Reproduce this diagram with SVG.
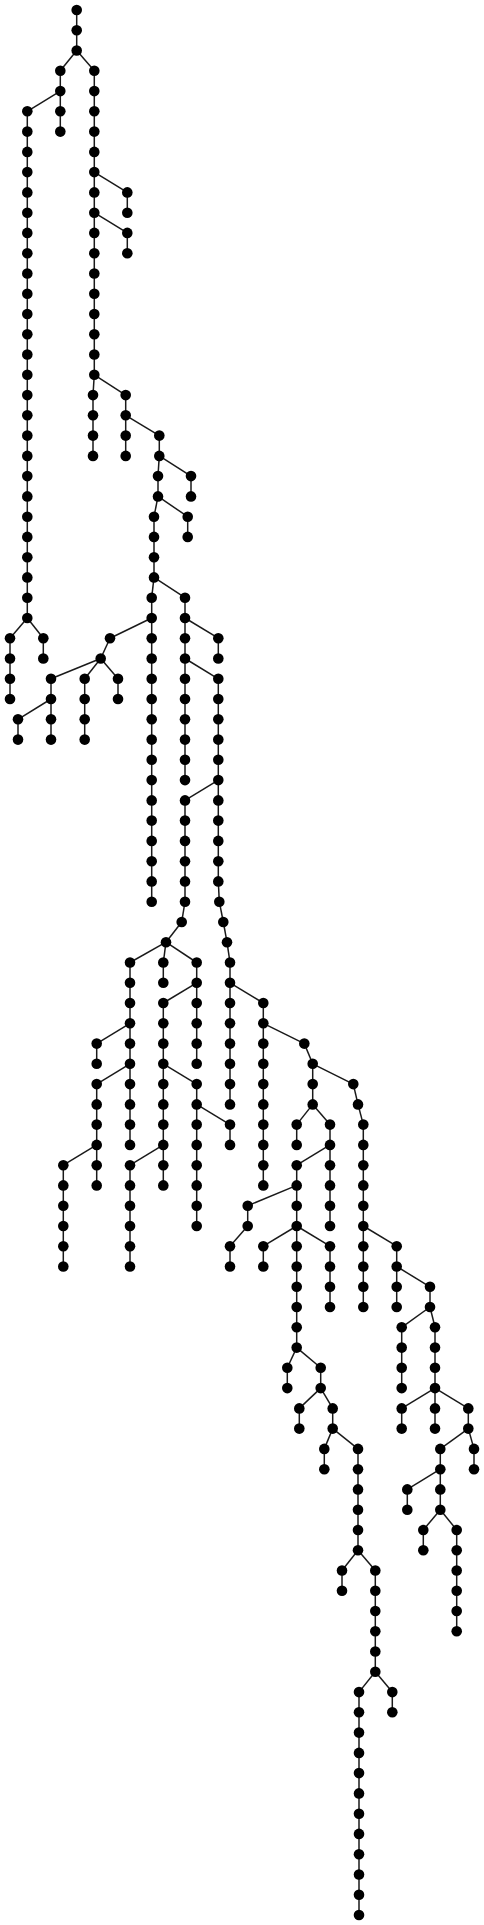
<svg xmlns="http://www.w3.org/2000/svg" width="484" height="1925" viewBox="0 0 484 1925">
<style>
#edges line{stroke:#1a1a1a;stroke-width:1.5;fill:none}
.n circle{fill:#000}
</style>
<rect width="484" height="1925" fill="#fff"/>
<g id="edges">
<line x1="76.7" y1="10" x2="76.7" y2="50.5"/>
<line x1="60.3" y1="70.8" x2="60.3" y2="131.6"/>
<line x1="27.3" y1="111.3" x2="27.3" y2="618"/>
<line x1="10" y1="638.2" x2="10" y2="699"/>
<line x1="43.3" y1="638.2" x2="43.3" y2="658.5"/>
<line x1="94.3" y1="70.8" x2="94.3" y2="374.8"/>
<line x1="127.3" y1="192.4" x2="127.3" y2="212.7"/>
<line x1="127.3" y1="232.9" x2="127.3" y2="253.2"/>
<line x1="93" y1="395.1" x2="93" y2="455.9"/>
<line x1="125.7" y1="395.1" x2="125.7" y2="455.9"/>
<line x1="159.3" y1="435.6" x2="159.3" y2="455.9"/>
<line x1="158" y1="476.1" x2="158" y2="496.4"/>
<line x1="191" y1="476.1" x2="191" y2="496.4"/>
<line x1="154" y1="516.7" x2="154" y2="577.4"/>
<line x1="187.7" y1="516.7" x2="187.7" y2="536.9"/>
<line x1="151.7" y1="597.7" x2="151.7" y2="901.7"/>
<line x1="185" y1="597.7" x2="185" y2="780.1"/>
<line x1="185" y1="800.4" x2="185" y2="901.7"/>
<line x1="218.3" y1="638.2" x2="218.3" y2="658.5"/>
<line x1="218.3" y1="678.8" x2="218.3" y2="881.4"/>
<line x1="18" y1="719.3" x2="18" y2="739.6"/>
<line x1="51" y1="678.8" x2="51" y2="739.6"/>
<line x1="84.7" y1="678.8" x2="84.7" y2="739.6"/>
<line x1="118" y1="678.8" x2="118" y2="699"/>
<line x1="130" y1="962.5" x2="130" y2="1144.9"/>
<line x1="130" y1="1165.2" x2="130" y2="1266.5"/>
<line x1="163.3" y1="962.5" x2="163.3" y2="982.8"/>
<line x1="163.3" y1="1003" x2="163.3" y2="1185.4"/>
<line x1="196.7" y1="962.5" x2="196.7" y2="1063.8"/>
<line x1="196.7" y1="1084.1" x2="196.7" y2="1226"/>
<line x1="96.7" y1="1043.6" x2="96.7" y2="1063.8"/>
<line x1="96.7" y1="1084.1" x2="96.7" y2="1185.4"/>
<line x1="63.3" y1="1165.2" x2="63.3" y2="1266.5"/>
<line x1="230" y1="962.5" x2="230" y2="1104.4"/>
<line x1="230" y1="1124.6" x2="230" y2="1144.9"/>
<line x1="230" y1="1246.2" x2="230" y2="1266.5"/>
<line x1="263.3" y1="1003" x2="263.3" y2="1185.4"/>
<line x1="263.3" y1="1246.2" x2="263.3" y2="1266.5"/>
<line x1="312.7" y1="1063.8" x2="312.7" y2="1104.4"/>
<line x1="363.3" y1="1124.6" x2="363.3" y2="1307"/>
<line x1="396.7" y1="1246.2" x2="396.7" y2="1307"/>
<line x1="430" y1="1286.8" x2="430" y2="1307"/>
<line x1="296.7" y1="1124.6" x2="296.7" y2="1144.9"/>
<line x1="296.7" y1="1165.2" x2="296.7" y2="1347.6"/>
<line x1="330" y1="1124.6" x2="330" y2="1226"/>
<line x1="330" y1="1246.2" x2="330" y2="1307"/>
<line x1="247.7" y1="1205.7" x2="247.7" y2="1226"/>
<line x1="287.3" y1="1367.8" x2="287.3" y2="1388.1"/>
<line x1="320.7" y1="1367.8" x2="320.7" y2="1388.1"/>
<line x1="299.3" y1="1408.4" x2="299.3" y2="1428.6"/>
<line x1="332.7" y1="1408.4" x2="332.7" y2="1428.6"/>
<line x1="324.3" y1="1448.9" x2="324.3" y2="1469.2"/>
<line x1="358" y1="1448.9" x2="358" y2="1550.2"/>
<line x1="342" y1="1570.5" x2="342" y2="1590.7"/>
<line x1="375.3" y1="1570.5" x2="375.3" y2="1671.8"/>
<line x1="359" y1="1692.1" x2="359" y2="1915"/>
<line x1="392.3" y1="1692.1" x2="392.3" y2="1712.3"/>
<line x1="401.7" y1="1327.3" x2="401.7" y2="1388.1"/>
<line x1="401.7" y1="1408.4" x2="401.7" y2="1428.6"/>
<line x1="435" y1="1327.3" x2="435" y2="1428.6"/>
<line x1="468.3" y1="1408.4" x2="468.3" y2="1428.6"/>
<line x1="440.3" y1="1448.9" x2="440.3" y2="1509.7"/>
<line x1="474" y1="1448.9" x2="474" y2="1469.2"/>
<line x1="407.3" y1="1489.4" x2="407.3" y2="1509.7"/>
<line x1="423.3" y1="1530" x2="423.3" y2="1550.2"/>
<line x1="456.7" y1="1530" x2="456.7" y2="1631.3"/>
<line x1="76.7" y1="50.5" x2="60.3" y2="70.8"/>
<line x1="76.7" y1="50.5" x2="94.3" y2="70.8"/>
<line x1="60.3" y1="91.1" x2="27.3" y2="111.3"/>
<line x1="27.3" y1="618" x2="10" y2="638.2"/>
<line x1="27.3" y1="618" x2="43.3" y2="638.2"/>
<line x1="94.3" y1="172.1" x2="127.3" y2="192.4"/>
<line x1="94.3" y1="212.7" x2="127.3" y2="232.9"/>
<line x1="94.3" y1="374.8" x2="93" y2="395.1"/>
<line x1="94.3" y1="374.8" x2="125.7" y2="395.1"/>
<line x1="125.7" y1="415.3" x2="159.3" y2="435.6"/>
<line x1="159.3" y1="455.9" x2="158" y2="476.1"/>
<line x1="159.3" y1="455.9" x2="191" y2="476.1"/>
<line x1="158" y1="496.4" x2="154" y2="516.7"/>
<line x1="158" y1="496.4" x2="187.7" y2="516.7"/>
<line x1="154" y1="577.4" x2="151.7" y2="597.7"/>
<line x1="154" y1="577.4" x2="185" y2="597.7"/>
<line x1="151.7" y1="618" x2="110" y2="638.2"/>
<line x1="110" y1="638.2" x2="100.7" y2="658.5"/>
<line x1="100.7" y1="658.5" x2="51" y2="678.8"/>
<line x1="100.7" y1="658.5" x2="84.7" y2="678.8"/>
<line x1="100.7" y1="658.5" x2="118" y2="678.8"/>
<line x1="51" y1="699" x2="18" y2="719.3"/>
<line x1="185" y1="618" x2="218.3" y2="638.2"/>
<line x1="185" y1="658.5" x2="218.3" y2="678.8"/>
<line x1="218.3" y1="780.1" x2="185" y2="800.4"/>
<line x1="218.3" y1="881.4" x2="219.3" y2="901.7"/>
<line x1="219.3" y1="901.7" x2="223.3" y2="922"/>
<line x1="223.3" y1="922" x2="227" y2="942.2"/>
<line x1="227" y1="942.2" x2="230" y2="962.5"/>
<line x1="185" y1="901.7" x2="181.7" y2="922"/>
<line x1="181.7" y1="922" x2="166" y2="942.2"/>
<line x1="166" y1="942.2" x2="130" y2="962.5"/>
<line x1="166" y1="942.2" x2="163.3" y2="962.5"/>
<line x1="166" y1="942.2" x2="196.7" y2="962.5"/>
<line x1="130" y1="1023.3" x2="96.7" y2="1043.6"/>
<line x1="130" y1="1063.8" x2="96.7" y2="1084.1"/>
<line x1="96.7" y1="1144.9" x2="63.3" y2="1165.2"/>
<line x1="196.7" y1="982.8" x2="163.3" y2="1003"/>
<line x1="163.3" y1="1063.8" x2="196.7" y2="1084.1"/>
<line x1="196.7" y1="1104.4" x2="230" y2="1124.6"/>
<line x1="163.3" y1="1144.9" x2="130" y2="1165.2"/>
<line x1="230" y1="982.8" x2="263.3" y2="1003"/>
<line x1="263.3" y1="1023.3" x2="304.3" y2="1043.6"/>
<line x1="304.3" y1="1043.6" x2="312.7" y2="1063.8"/>
<line x1="312.7" y1="1063.8" x2="353.3" y2="1084.1"/>
<line x1="353.3" y1="1084.1" x2="358" y2="1104.4"/>
<line x1="358" y1="1104.4" x2="363.3" y2="1124.6"/>
<line x1="312.7" y1="1104.4" x2="296.7" y2="1124.6"/>
<line x1="312.7" y1="1104.4" x2="330" y2="1124.6"/>
<line x1="330" y1="1144.9" x2="296.7" y2="1165.2"/>
<line x1="296.7" y1="1185.4" x2="247.7" y2="1205.7"/>
<line x1="247.7" y1="1226" x2="230" y2="1246.2"/>
<line x1="296.7" y1="1226" x2="263.3" y2="1246.2"/>
<line x1="296.7" y1="1226" x2="330" y2="1246.2"/>
<line x1="363.3" y1="1226" x2="396.7" y2="1246.2"/>
<line x1="396.7" y1="1266.5" x2="430" y2="1286.8"/>
<line x1="296.7" y1="1347.6" x2="287.3" y2="1367.8"/>
<line x1="296.7" y1="1347.6" x2="320.7" y2="1367.8"/>
<line x1="320.7" y1="1388.1" x2="299.3" y2="1408.4"/>
<line x1="320.7" y1="1388.1" x2="332.7" y2="1408.4"/>
<line x1="332.7" y1="1428.6" x2="324.3" y2="1448.9"/>
<line x1="332.7" y1="1428.6" x2="358" y2="1448.9"/>
<line x1="358" y1="1550.2" x2="342" y2="1570.5"/>
<line x1="358" y1="1550.2" x2="375.3" y2="1570.5"/>
<line x1="375.3" y1="1671.8" x2="359" y2="1692.1"/>
<line x1="375.3" y1="1671.8" x2="392.3" y2="1692.1"/>
<line x1="430" y1="1307" x2="401.7" y2="1327.3"/>
<line x1="430" y1="1307" x2="435" y2="1327.3"/>
<line x1="435" y1="1388.1" x2="401.7" y2="1408.4"/>
<line x1="435" y1="1388.1" x2="468.3" y2="1408.4"/>
<line x1="468.3" y1="1428.6" x2="440.3" y2="1448.9"/>
<line x1="468.3" y1="1428.6" x2="474" y2="1448.9"/>
<line x1="440.3" y1="1469.2" x2="407.3" y2="1489.4"/>
<line x1="440.3" y1="1509.7" x2="423.3" y2="1530"/>
<line x1="440.3" y1="1509.7" x2="456.7" y2="1530"/>
</g>
<g id="n1" class="n"><circle cx="76.7" cy="10" r="5.3"/></g>
<g id="n2" class="n"><circle cx="76.7" cy="30.3" r="5.3"/></g>
<g id="n3" class="n"><circle cx="76.7" cy="50.5" r="5.3"/></g>
<g id="n4" class="n"><circle cx="60.3" cy="70.8" r="5.3"/></g>
<g id="n5" class="n"><circle cx="60.3" cy="91.1" r="5.3"/></g>
<g id="n6" class="n"><circle cx="60.3" cy="111.3" r="5.3"/></g>
<g id="n7" class="n"><circle cx="60.3" cy="131.6" r="5.3"/></g>
<g id="n8" class="n"><circle cx="27.3" cy="111.3" r="5.3"/></g>
<g id="n9" class="n"><circle cx="27.3" cy="131.6" r="5.3"/></g>
<g id="n10" class="n"><circle cx="27.3" cy="151.9" r="5.3"/></g>
<g id="n11" class="n"><circle cx="27.3" cy="172.1" r="5.3"/></g>
<g id="n12" class="n"><circle cx="27.3" cy="192.4" r="5.3"/></g>
<g id="n13" class="n"><circle cx="27.3" cy="212.7" r="5.3"/></g>
<g id="n14" class="n"><circle cx="27.3" cy="232.9" r="5.3"/></g>
<g id="n15" class="n"><circle cx="27.3" cy="253.2" r="5.3"/></g>
<g id="n16" class="n"><circle cx="27.3" cy="273.5" r="5.3"/></g>
<g id="n17" class="n"><circle cx="27.3" cy="293.7" r="5.3"/></g>
<g id="n18" class="n"><circle cx="27.3" cy="314" r="5.3"/></g>
<g id="n19" class="n"><circle cx="27.3" cy="334.3" r="5.3"/></g>
<g id="n20" class="n"><circle cx="27.3" cy="354.5" r="5.3"/></g>
<g id="n21" class="n"><circle cx="27.3" cy="374.8" r="5.3"/></g>
<g id="n22" class="n"><circle cx="27.3" cy="395.1" r="5.3"/></g>
<g id="n23" class="n"><circle cx="27.3" cy="415.3" r="5.3"/></g>
<g id="n24" class="n"><circle cx="27.3" cy="435.6" r="5.3"/></g>
<g id="n25" class="n"><circle cx="27.3" cy="455.9" r="5.3"/></g>
<g id="n26" class="n"><circle cx="27.3" cy="476.1" r="5.3"/></g>
<g id="n27" class="n"><circle cx="27.3" cy="496.4" r="5.3"/></g>
<g id="n28" class="n"><circle cx="27.3" cy="516.7" r="5.3"/></g>
<g id="n29" class="n"><circle cx="27.3" cy="536.9" r="5.3"/></g>
<g id="n30" class="n"><circle cx="27.3" cy="557.2" r="5.3"/></g>
<g id="n31" class="n"><circle cx="27.3" cy="577.4" r="5.3"/></g>
<g id="n32" class="n"><circle cx="27.3" cy="597.7" r="5.3"/></g>
<g id="n33" class="n"><circle cx="27.3" cy="618" r="5.3"/></g>
<g id="n34" class="n"><circle cx="10" cy="638.2" r="5.3"/></g>
<g id="n35" class="n"><circle cx="10" cy="658.5" r="5.3"/></g>
<g id="n36" class="n"><circle cx="10" cy="678.8" r="5.3"/></g>
<g id="n37" class="n"><circle cx="10" cy="699" r="5.3"/></g>
<g id="n38" class="n"><circle cx="43.3" cy="638.2" r="5.3"/></g>
<g id="n39" class="n"><circle cx="43.3" cy="658.5" r="5.3"/></g>
<g id="n40" class="n"><circle cx="94.3" cy="70.8" r="5.3"/></g>
<g id="n41" class="n"><circle cx="94.3" cy="91.1" r="5.3"/></g>
<g id="n42" class="n"><circle cx="94.3" cy="111.3" r="5.3"/></g>
<g id="n43" class="n"><circle cx="94.3" cy="131.6" r="5.3"/></g>
<g id="n44" class="n"><circle cx="94.3" cy="151.9" r="5.3"/></g>
<g id="n45" class="n"><circle cx="94.3" cy="172.1" r="5.3"/></g>
<g id="n46" class="n"><circle cx="94.3" cy="192.4" r="5.3"/></g>
<g id="n47" class="n"><circle cx="94.3" cy="212.7" r="5.3"/></g>
<g id="n48" class="n"><circle cx="94.3" cy="232.9" r="5.3"/></g>
<g id="n49" class="n"><circle cx="94.3" cy="253.2" r="5.3"/></g>
<g id="n50" class="n"><circle cx="94.3" cy="273.5" r="5.3"/></g>
<g id="n51" class="n"><circle cx="94.3" cy="293.7" r="5.3"/></g>
<g id="n52" class="n"><circle cx="94.3" cy="314" r="5.3"/></g>
<g id="n53" class="n"><circle cx="94.3" cy="334.3" r="5.3"/></g>
<g id="n54" class="n"><circle cx="94.3" cy="354.5" r="5.3"/></g>
<g id="n55" class="n"><circle cx="94.3" cy="374.8" r="5.3"/></g>
<g id="n56" class="n"><circle cx="127.3" cy="192.4" r="5.3"/></g>
<g id="n57" class="n"><circle cx="127.3" cy="212.7" r="5.3"/></g>
<g id="n58" class="n"><circle cx="127.3" cy="232.9" r="5.3"/></g>
<g id="n59" class="n"><circle cx="127.3" cy="253.2" r="5.3"/></g>
<g id="n60" class="n"><circle cx="93" cy="395.1" r="5.3"/></g>
<g id="n61" class="n"><circle cx="93" cy="415.3" r="5.3"/></g>
<g id="n62" class="n"><circle cx="93" cy="435.6" r="5.3"/></g>
<g id="n63" class="n"><circle cx="93" cy="455.9" r="5.3"/></g>
<g id="n64" class="n"><circle cx="125.7" cy="395.1" r="5.3"/></g>
<g id="n65" class="n"><circle cx="125.7" cy="415.3" r="5.3"/></g>
<g id="n66" class="n"><circle cx="125.7" cy="435.6" r="5.3"/></g>
<g id="n67" class="n"><circle cx="125.7" cy="455.9" r="5.3"/></g>
<g id="n68" class="n"><circle cx="159.3" cy="435.6" r="5.3"/></g>
<g id="n69" class="n"><circle cx="159.3" cy="455.9" r="5.3"/></g>
<g id="n70" class="n"><circle cx="158" cy="476.1" r="5.3"/></g>
<g id="n71" class="n"><circle cx="158" cy="496.4" r="5.3"/></g>
<g id="n72" class="n"><circle cx="191" cy="476.1" r="5.3"/></g>
<g id="n73" class="n"><circle cx="191" cy="496.4" r="5.3"/></g>
<g id="n74" class="n"><circle cx="154" cy="516.7" r="5.3"/></g>
<g id="n75" class="n"><circle cx="154" cy="536.9" r="5.3"/></g>
<g id="n76" class="n"><circle cx="154" cy="557.2" r="5.3"/></g>
<g id="n77" class="n"><circle cx="154" cy="577.4" r="5.3"/></g>
<g id="n78" class="n"><circle cx="187.7" cy="516.7" r="5.3"/></g>
<g id="n79" class="n"><circle cx="187.7" cy="536.9" r="5.3"/></g>
<g id="n80" class="n"><circle cx="151.7" cy="597.7" r="5.3"/></g>
<g id="n81" class="n"><circle cx="151.7" cy="618" r="5.3"/></g>
<g id="n82" class="n"><circle cx="151.7" cy="638.2" r="5.3"/></g>
<g id="n83" class="n"><circle cx="151.7" cy="658.5" r="5.3"/></g>
<g id="n84" class="n"><circle cx="151.7" cy="678.8" r="5.3"/></g>
<g id="n85" class="n"><circle cx="151.7" cy="699" r="5.3"/></g>
<g id="n86" class="n"><circle cx="151.7" cy="719.3" r="5.3"/></g>
<g id="n87" class="n"><circle cx="151.7" cy="739.6" r="5.3"/></g>
<g id="n88" class="n"><circle cx="151.7" cy="759.8" r="5.3"/></g>
<g id="n89" class="n"><circle cx="151.7" cy="780.1" r="5.3"/></g>
<g id="n90" class="n"><circle cx="151.7" cy="800.4" r="5.3"/></g>
<g id="n91" class="n"><circle cx="151.7" cy="820.6" r="5.3"/></g>
<g id="n92" class="n"><circle cx="151.7" cy="840.9" r="5.3"/></g>
<g id="n93" class="n"><circle cx="151.7" cy="861.2" r="5.3"/></g>
<g id="n94" class="n"><circle cx="151.7" cy="881.4" r="5.3"/></g>
<g id="n95" class="n"><circle cx="151.7" cy="901.7" r="5.3"/></g>
<g id="n96" class="n"><circle cx="185" cy="597.7" r="5.3"/></g>
<g id="n97" class="n"><circle cx="185" cy="618" r="5.3"/></g>
<g id="n98" class="n"><circle cx="185" cy="638.2" r="5.3"/></g>
<g id="n99" class="n"><circle cx="185" cy="658.5" r="5.3"/></g>
<g id="n100" class="n"><circle cx="185" cy="678.8" r="5.3"/></g>
<g id="n101" class="n"><circle cx="185" cy="699" r="5.3"/></g>
<g id="n102" class="n"><circle cx="185" cy="719.3" r="5.3"/></g>
<g id="n103" class="n"><circle cx="185" cy="739.6" r="5.3"/></g>
<g id="n104" class="n"><circle cx="185" cy="759.8" r="5.3"/></g>
<g id="n105" class="n"><circle cx="185" cy="780.1" r="5.3"/></g>
<g id="n106" class="n"><circle cx="185" cy="800.4" r="5.3"/></g>
<g id="n107" class="n"><circle cx="185" cy="820.6" r="5.3"/></g>
<g id="n108" class="n"><circle cx="185" cy="840.9" r="5.3"/></g>
<g id="n109" class="n"><circle cx="185" cy="861.2" r="5.3"/></g>
<g id="n110" class="n"><circle cx="185" cy="881.4" r="5.3"/></g>
<g id="n111" class="n"><circle cx="185" cy="901.7" r="5.3"/></g>
<g id="n112" class="n"><circle cx="218.3" cy="638.2" r="5.3"/></g>
<g id="n113" class="n"><circle cx="218.3" cy="658.5" r="5.3"/></g>
<g id="n114" class="n"><circle cx="218.3" cy="678.8" r="5.3"/></g>
<g id="n115" class="n"><circle cx="218.3" cy="699" r="5.3"/></g>
<g id="n116" class="n"><circle cx="218.3" cy="719.3" r="5.3"/></g>
<g id="n117" class="n"><circle cx="218.3" cy="739.6" r="5.3"/></g>
<g id="n118" class="n"><circle cx="218.3" cy="759.8" r="5.3"/></g>
<g id="n119" class="n"><circle cx="218.3" cy="780.1" r="5.3"/></g>
<g id="n120" class="n"><circle cx="218.3" cy="800.4" r="5.3"/></g>
<g id="n121" class="n"><circle cx="218.3" cy="820.6" r="5.3"/></g>
<g id="n122" class="n"><circle cx="218.3" cy="840.9" r="5.3"/></g>
<g id="n123" class="n"><circle cx="218.3" cy="861.2" r="5.3"/></g>
<g id="n124" class="n"><circle cx="218.3" cy="881.4" r="5.3"/></g>
<g id="n125" class="n"><circle cx="219.3" cy="901.7" r="5.3"/></g>
<g id="n126" class="n"><circle cx="223.3" cy="922" r="5.3"/></g>
<g id="n127" class="n"><circle cx="227" cy="942.2" r="5.3"/></g>
<g id="n128" class="n"><circle cx="230" cy="962.5" r="5.3"/></g>
<g id="n129" class="n"><circle cx="181.7" cy="922" r="5.3"/></g>
<g id="n130" class="n"><circle cx="166" cy="942.2" r="5.3"/></g>
<g id="n131" class="n"><circle cx="110" cy="638.2" r="5.3"/></g>
<g id="n132" class="n"><circle cx="100.7" cy="658.5" r="5.3"/></g>
<g id="n133" class="n"><circle cx="51" cy="678.8" r="5.3"/></g>
<g id="n134" class="n"><circle cx="51" cy="699" r="5.3"/></g>
<g id="n135" class="n"><circle cx="51" cy="719.3" r="5.3"/></g>
<g id="n136" class="n"><circle cx="51" cy="739.6" r="5.3"/></g>
<g id="n137" class="n"><circle cx="18" cy="719.3" r="5.3"/></g>
<g id="n138" class="n"><circle cx="18" cy="739.6" r="5.3"/></g>
<g id="n139" class="n"><circle cx="84.7" cy="678.8" r="5.3"/></g>
<g id="n140" class="n"><circle cx="84.7" cy="699" r="5.3"/></g>
<g id="n141" class="n"><circle cx="84.7" cy="719.3" r="5.3"/></g>
<g id="n142" class="n"><circle cx="84.7" cy="739.6" r="5.3"/></g>
<g id="n143" class="n"><circle cx="118" cy="678.8" r="5.3"/></g>
<g id="n144" class="n"><circle cx="118" cy="699" r="5.3"/></g>
<g id="n145" class="n"><circle cx="130" cy="962.5" r="5.3"/></g>
<g id="n146" class="n"><circle cx="130" cy="982.8" r="5.3"/></g>
<g id="n147" class="n"><circle cx="130" cy="1003" r="5.3"/></g>
<g id="n148" class="n"><circle cx="130" cy="1023.3" r="5.3"/></g>
<g id="n149" class="n"><circle cx="130" cy="1043.6" r="5.3"/></g>
<g id="n150" class="n"><circle cx="130" cy="1063.8" r="5.3"/></g>
<g id="n151" class="n"><circle cx="130" cy="1084.1" r="5.3"/></g>
<g id="n152" class="n"><circle cx="130" cy="1104.4" r="5.3"/></g>
<g id="n153" class="n"><circle cx="130" cy="1124.6" r="5.3"/></g>
<g id="n154" class="n"><circle cx="130" cy="1144.9" r="5.3"/></g>
<g id="n155" class="n"><circle cx="130" cy="1165.2" r="5.3"/></g>
<g id="n156" class="n"><circle cx="130" cy="1185.4" r="5.3"/></g>
<g id="n157" class="n"><circle cx="130" cy="1205.7" r="5.3"/></g>
<g id="n158" class="n"><circle cx="130" cy="1226" r="5.3"/></g>
<g id="n159" class="n"><circle cx="130" cy="1246.2" r="5.3"/></g>
<g id="n160" class="n"><circle cx="130" cy="1266.5" r="5.3"/></g>
<g id="n161" class="n"><circle cx="163.3" cy="962.5" r="5.3"/></g>
<g id="n162" class="n"><circle cx="163.3" cy="982.8" r="5.3"/></g>
<g id="n163" class="n"><circle cx="163.3" cy="1003" r="5.3"/></g>
<g id="n164" class="n"><circle cx="163.3" cy="1023.3" r="5.3"/></g>
<g id="n165" class="n"><circle cx="163.3" cy="1043.6" r="5.3"/></g>
<g id="n166" class="n"><circle cx="163.3" cy="1063.8" r="5.3"/></g>
<g id="n167" class="n"><circle cx="163.3" cy="1084.1" r="5.3"/></g>
<g id="n168" class="n"><circle cx="163.3" cy="1104.4" r="5.3"/></g>
<g id="n169" class="n"><circle cx="163.3" cy="1124.6" r="5.3"/></g>
<g id="n170" class="n"><circle cx="163.3" cy="1144.9" r="5.3"/></g>
<g id="n171" class="n"><circle cx="163.3" cy="1165.2" r="5.3"/></g>
<g id="n172" class="n"><circle cx="163.3" cy="1185.4" r="5.3"/></g>
<g id="n173" class="n"><circle cx="196.7" cy="962.5" r="5.3"/></g>
<g id="n174" class="n"><circle cx="196.7" cy="982.8" r="5.3"/></g>
<g id="n175" class="n"><circle cx="196.7" cy="1003" r="5.3"/></g>
<g id="n176" class="n"><circle cx="196.7" cy="1023.3" r="5.3"/></g>
<g id="n177" class="n"><circle cx="196.7" cy="1043.6" r="5.3"/></g>
<g id="n178" class="n"><circle cx="196.7" cy="1063.8" r="5.3"/></g>
<g id="n179" class="n"><circle cx="196.7" cy="1084.1" r="5.3"/></g>
<g id="n180" class="n"><circle cx="196.7" cy="1104.4" r="5.3"/></g>
<g id="n181" class="n"><circle cx="196.7" cy="1124.6" r="5.3"/></g>
<g id="n182" class="n"><circle cx="196.7" cy="1144.9" r="5.3"/></g>
<g id="n183" class="n"><circle cx="196.7" cy="1165.2" r="5.3"/></g>
<g id="n184" class="n"><circle cx="196.7" cy="1185.4" r="5.3"/></g>
<g id="n185" class="n"><circle cx="196.7" cy="1205.7" r="5.3"/></g>
<g id="n186" class="n"><circle cx="196.7" cy="1226" r="5.3"/></g>
<g id="n187" class="n"><circle cx="96.7" cy="1043.6" r="5.3"/></g>
<g id="n188" class="n"><circle cx="96.7" cy="1063.8" r="5.3"/></g>
<g id="n189" class="n"><circle cx="96.7" cy="1084.1" r="5.3"/></g>
<g id="n190" class="n"><circle cx="96.7" cy="1104.4" r="5.3"/></g>
<g id="n191" class="n"><circle cx="96.7" cy="1124.6" r="5.3"/></g>
<g id="n192" class="n"><circle cx="96.7" cy="1144.9" r="5.3"/></g>
<g id="n193" class="n"><circle cx="96.7" cy="1165.2" r="5.3"/></g>
<g id="n194" class="n"><circle cx="96.7" cy="1185.4" r="5.3"/></g>
<g id="n195" class="n"><circle cx="63.3" cy="1165.2" r="5.3"/></g>
<g id="n196" class="n"><circle cx="63.3" cy="1185.4" r="5.3"/></g>
<g id="n197" class="n"><circle cx="63.3" cy="1205.7" r="5.3"/></g>
<g id="n198" class="n"><circle cx="63.3" cy="1226" r="5.3"/></g>
<g id="n199" class="n"><circle cx="63.3" cy="1246.2" r="5.3"/></g>
<g id="n200" class="n"><circle cx="63.3" cy="1266.5" r="5.3"/></g>
<g id="n201" class="n"><circle cx="230" cy="982.8" r="5.3"/></g>
<g id="n202" class="n"><circle cx="230" cy="1003" r="5.3"/></g>
<g id="n203" class="n"><circle cx="230" cy="1023.3" r="5.3"/></g>
<g id="n204" class="n"><circle cx="230" cy="1043.6" r="5.3"/></g>
<g id="n205" class="n"><circle cx="230" cy="1063.8" r="5.3"/></g>
<g id="n206" class="n"><circle cx="230" cy="1084.1" r="5.3"/></g>
<g id="n207" class="n"><circle cx="230" cy="1104.4" r="5.3"/></g>
<g id="n208" class="n"><circle cx="230" cy="1124.6" r="5.3"/></g>
<g id="n209" class="n"><circle cx="230" cy="1144.9" r="5.3"/></g>
<g id="n210" class="n"><circle cx="230" cy="1246.2" r="5.3"/></g>
<g id="n211" class="n"><circle cx="230" cy="1266.5" r="5.3"/></g>
<g id="n212" class="n"><circle cx="263.3" cy="1003" r="5.3"/></g>
<g id="n213" class="n"><circle cx="263.3" cy="1023.3" r="5.3"/></g>
<g id="n214" class="n"><circle cx="263.3" cy="1043.6" r="5.3"/></g>
<g id="n215" class="n"><circle cx="263.3" cy="1063.8" r="5.3"/></g>
<g id="n216" class="n"><circle cx="263.3" cy="1084.1" r="5.3"/></g>
<g id="n217" class="n"><circle cx="263.3" cy="1104.4" r="5.3"/></g>
<g id="n218" class="n"><circle cx="263.3" cy="1124.6" r="5.3"/></g>
<g id="n219" class="n"><circle cx="263.3" cy="1144.9" r="5.3"/></g>
<g id="n220" class="n"><circle cx="263.3" cy="1165.2" r="5.3"/></g>
<g id="n221" class="n"><circle cx="263.3" cy="1185.4" r="5.3"/></g>
<g id="n222" class="n"><circle cx="263.3" cy="1246.2" r="5.3"/></g>
<g id="n223" class="n"><circle cx="263.3" cy="1266.5" r="5.3"/></g>
<g id="n224" class="n"><circle cx="304.3" cy="1043.6" r="5.3"/></g>
<g id="n225" class="n"><circle cx="312.7" cy="1063.8" r="5.3"/></g>
<g id="n226" class="n"><circle cx="312.7" cy="1084.1" r="5.3"/></g>
<g id="n227" class="n"><circle cx="312.7" cy="1104.4" r="5.3"/></g>
<g id="n228" class="n"><circle cx="353.3" cy="1084.1" r="5.3"/></g>
<g id="n229" class="n"><circle cx="358" cy="1104.4" r="5.3"/></g>
<g id="n230" class="n"><circle cx="363.3" cy="1124.6" r="5.3"/></g>
<g id="n231" class="n"><circle cx="363.3" cy="1144.9" r="5.3"/></g>
<g id="n232" class="n"><circle cx="363.3" cy="1165.2" r="5.3"/></g>
<g id="n233" class="n"><circle cx="363.3" cy="1185.4" r="5.3"/></g>
<g id="n234" class="n"><circle cx="363.3" cy="1205.7" r="5.3"/></g>
<g id="n235" class="n"><circle cx="363.3" cy="1226" r="5.3"/></g>
<g id="n236" class="n"><circle cx="363.3" cy="1246.2" r="5.3"/></g>
<g id="n237" class="n"><circle cx="363.3" cy="1266.5" r="5.3"/></g>
<g id="n238" class="n"><circle cx="363.3" cy="1286.8" r="5.3"/></g>
<g id="n239" class="n"><circle cx="363.3" cy="1307" r="5.3"/></g>
<g id="n240" class="n"><circle cx="396.7" cy="1246.2" r="5.3"/></g>
<g id="n241" class="n"><circle cx="396.7" cy="1266.5" r="5.3"/></g>
<g id="n242" class="n"><circle cx="396.7" cy="1286.8" r="5.3"/></g>
<g id="n243" class="n"><circle cx="396.7" cy="1307" r="5.3"/></g>
<g id="n244" class="n"><circle cx="430" cy="1286.8" r="5.3"/></g>
<g id="n245" class="n"><circle cx="430" cy="1307" r="5.3"/></g>
<g id="n246" class="n"><circle cx="296.7" cy="1124.6" r="5.3"/></g>
<g id="n247" class="n"><circle cx="296.7" cy="1144.9" r="5.3"/></g>
<g id="n248" class="n"><circle cx="296.7" cy="1165.2" r="5.3"/></g>
<g id="n249" class="n"><circle cx="296.7" cy="1185.4" r="5.3"/></g>
<g id="n250" class="n"><circle cx="296.7" cy="1205.7" r="5.3"/></g>
<g id="n251" class="n"><circle cx="296.7" cy="1226" r="5.3"/></g>
<g id="n252" class="n"><circle cx="296.7" cy="1246.2" r="5.3"/></g>
<g id="n253" class="n"><circle cx="296.7" cy="1266.5" r="5.3"/></g>
<g id="n254" class="n"><circle cx="296.7" cy="1286.8" r="5.3"/></g>
<g id="n255" class="n"><circle cx="296.7" cy="1307" r="5.3"/></g>
<g id="n256" class="n"><circle cx="296.7" cy="1327.3" r="5.3"/></g>
<g id="n257" class="n"><circle cx="296.7" cy="1347.6" r="5.3"/></g>
<g id="n258" class="n"><circle cx="330" cy="1124.6" r="5.3"/></g>
<g id="n259" class="n"><circle cx="330" cy="1144.9" r="5.3"/></g>
<g id="n260" class="n"><circle cx="330" cy="1165.2" r="5.3"/></g>
<g id="n261" class="n"><circle cx="330" cy="1185.4" r="5.3"/></g>
<g id="n262" class="n"><circle cx="330" cy="1205.7" r="5.3"/></g>
<g id="n263" class="n"><circle cx="330" cy="1226" r="5.3"/></g>
<g id="n264" class="n"><circle cx="330" cy="1246.2" r="5.3"/></g>
<g id="n265" class="n"><circle cx="330" cy="1266.5" r="5.3"/></g>
<g id="n266" class="n"><circle cx="330" cy="1286.8" r="5.3"/></g>
<g id="n267" class="n"><circle cx="330" cy="1307" r="5.3"/></g>
<g id="n268" class="n"><circle cx="247.7" cy="1205.7" r="5.3"/></g>
<g id="n269" class="n"><circle cx="247.7" cy="1226" r="5.3"/></g>
<g id="n270" class="n"><circle cx="287.3" cy="1367.8" r="5.3"/></g>
<g id="n271" class="n"><circle cx="287.3" cy="1388.1" r="5.3"/></g>
<g id="n272" class="n"><circle cx="320.7" cy="1367.8" r="5.3"/></g>
<g id="n273" class="n"><circle cx="320.7" cy="1388.1" r="5.3"/></g>
<g id="n274" class="n"><circle cx="299.3" cy="1408.4" r="5.3"/></g>
<g id="n275" class="n"><circle cx="299.3" cy="1428.6" r="5.3"/></g>
<g id="n276" class="n"><circle cx="332.7" cy="1408.4" r="5.3"/></g>
<g id="n277" class="n"><circle cx="332.7" cy="1428.6" r="5.3"/></g>
<g id="n278" class="n"><circle cx="324.3" cy="1448.9" r="5.3"/></g>
<g id="n279" class="n"><circle cx="324.3" cy="1469.2" r="5.3"/></g>
<g id="n280" class="n"><circle cx="358" cy="1448.9" r="5.3"/></g>
<g id="n281" class="n"><circle cx="358" cy="1469.2" r="5.3"/></g>
<g id="n282" class="n"><circle cx="358" cy="1489.4" r="5.3"/></g>
<g id="n283" class="n"><circle cx="358" cy="1509.7" r="5.3"/></g>
<g id="n284" class="n"><circle cx="358" cy="1530" r="5.3"/></g>
<g id="n285" class="n"><circle cx="358" cy="1550.2" r="5.3"/></g>
<g id="n286" class="n"><circle cx="342" cy="1570.5" r="5.3"/></g>
<g id="n287" class="n"><circle cx="342" cy="1590.7" r="5.3"/></g>
<g id="n288" class="n"><circle cx="375.3" cy="1570.5" r="5.3"/></g>
<g id="n289" class="n"><circle cx="375.3" cy="1590.7" r="5.3"/></g>
<g id="n290" class="n"><circle cx="375.3" cy="1611" r="5.3"/></g>
<g id="n291" class="n"><circle cx="375.3" cy="1631.3" r="5.3"/></g>
<g id="n292" class="n"><circle cx="375.3" cy="1651.5" r="5.3"/></g>
<g id="n293" class="n"><circle cx="375.3" cy="1671.8" r="5.3"/></g>
<g id="n294" class="n"><circle cx="359" cy="1692.1" r="5.3"/></g>
<g id="n295" class="n"><circle cx="359" cy="1712.3" r="5.3"/></g>
<g id="n296" class="n"><circle cx="359" cy="1732.6" r="5.3"/></g>
<g id="n297" class="n"><circle cx="359" cy="1752.9" r="5.3"/></g>
<g id="n298" class="n"><circle cx="359" cy="1773.1" r="5.3"/></g>
<g id="n299" class="n"><circle cx="359" cy="1793.4" r="5.3"/></g>
<g id="n300" class="n"><circle cx="359" cy="1813.7" r="5.3"/></g>
<g id="n301" class="n"><circle cx="359" cy="1833.9" r="5.3"/></g>
<g id="n302" class="n"><circle cx="359" cy="1854.2" r="5.3"/></g>
<g id="n303" class="n"><circle cx="359" cy="1874.5" r="5.3"/></g>
<g id="n304" class="n"><circle cx="359" cy="1894.7" r="5.3"/></g>
<g id="n305" class="n"><circle cx="359" cy="1915" r="5.3"/></g>
<g id="n306" class="n"><circle cx="392.3" cy="1692.1" r="5.3"/></g>
<g id="n307" class="n"><circle cx="392.3" cy="1712.3" r="5.3"/></g>
<g id="n308" class="n"><circle cx="401.7" cy="1327.3" r="5.3"/></g>
<g id="n309" class="n"><circle cx="401.7" cy="1347.6" r="5.3"/></g>
<g id="n310" class="n"><circle cx="401.7" cy="1367.8" r="5.3"/></g>
<g id="n311" class="n"><circle cx="401.7" cy="1388.1" r="5.3"/></g>
<g id="n312" class="n"><circle cx="435" cy="1327.3" r="5.3"/></g>
<g id="n313" class="n"><circle cx="435" cy="1347.6" r="5.3"/></g>
<g id="n314" class="n"><circle cx="435" cy="1367.8" r="5.3"/></g>
<g id="n315" class="n"><circle cx="435" cy="1388.1" r="5.3"/></g>
<g id="n316" class="n"><circle cx="435" cy="1408.4" r="5.3"/></g>
<g id="n317" class="n"><circle cx="435" cy="1428.6" r="5.3"/></g>
<g id="n318" class="n"><circle cx="401.7" cy="1408.4" r="5.3"/></g>
<g id="n319" class="n"><circle cx="401.7" cy="1428.6" r="5.3"/></g>
<g id="n320" class="n"><circle cx="468.3" cy="1408.4" r="5.3"/></g>
<g id="n321" class="n"><circle cx="468.3" cy="1428.6" r="5.3"/></g>
<g id="n322" class="n"><circle cx="440.3" cy="1448.9" r="5.3"/></g>
<g id="n323" class="n"><circle cx="440.3" cy="1469.2" r="5.3"/></g>
<g id="n324" class="n"><circle cx="440.3" cy="1489.4" r="5.3"/></g>
<g id="n325" class="n"><circle cx="440.3" cy="1509.7" r="5.3"/></g>
<g id="n326" class="n"><circle cx="474" cy="1448.9" r="5.3"/></g>
<g id="n327" class="n"><circle cx="474" cy="1469.2" r="5.3"/></g>
<g id="n328" class="n"><circle cx="407.3" cy="1489.4" r="5.3"/></g>
<g id="n329" class="n"><circle cx="407.3" cy="1509.7" r="5.3"/></g>
<g id="n330" class="n"><circle cx="423.3" cy="1530" r="5.3"/></g>
<g id="n331" class="n"><circle cx="423.3" cy="1550.2" r="5.3"/></g>
<g id="n332" class="n"><circle cx="456.7" cy="1530" r="5.3"/></g>
<g id="n333" class="n"><circle cx="456.7" cy="1550.2" r="5.3"/></g>
<g id="n334" class="n"><circle cx="456.7" cy="1570.5" r="5.3"/></g>
<g id="n335" class="n"><circle cx="456.7" cy="1590.7" r="5.3"/></g>
<g id="n336" class="n"><circle cx="456.7" cy="1611" r="5.3"/></g>
<g id="n337" class="n"><circle cx="456.7" cy="1631.3" r="5.3"/></g>
</svg>
